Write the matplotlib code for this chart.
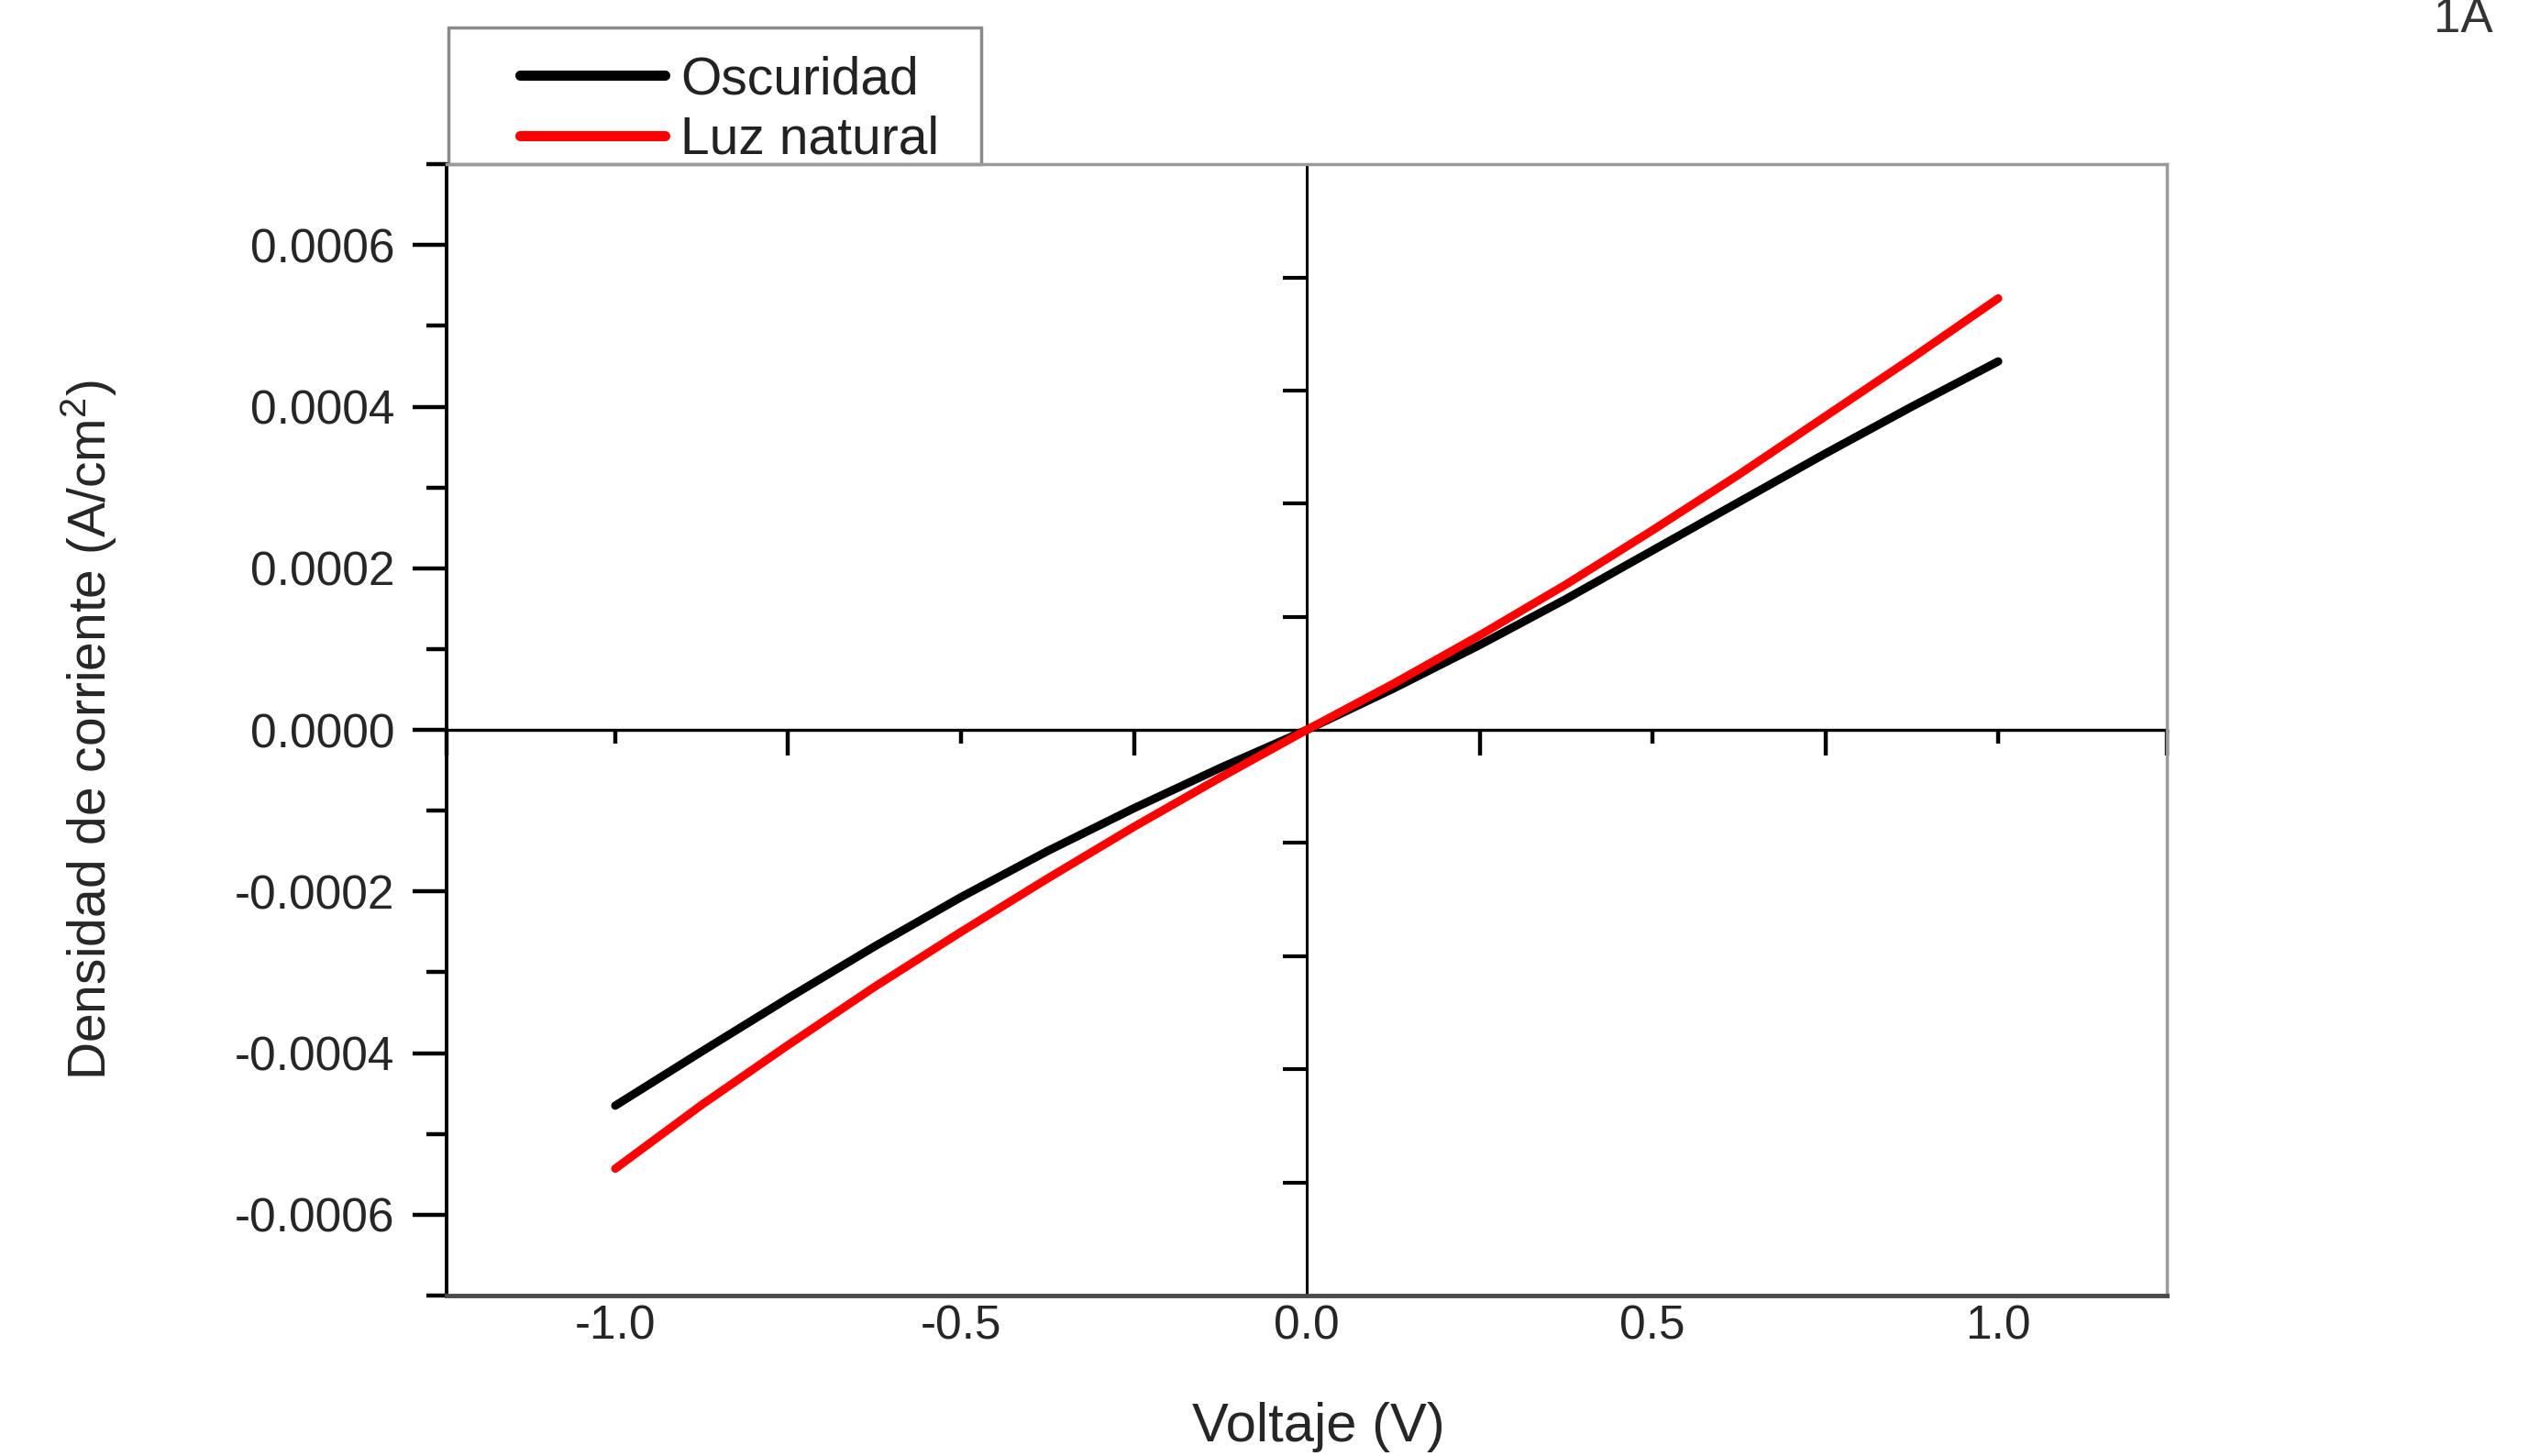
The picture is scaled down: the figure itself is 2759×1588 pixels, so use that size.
import matplotlib
matplotlib.use("Agg")
import matplotlib.pyplot as plt
from matplotlib.patches import Rectangle
from matplotlib.ticker import MultipleLocator, FixedLocator, FuncFormatter

plt.rcParams['font.family'] = ['Liberation Sans', 'DejaVu Sans']
plt.rcParams['mathtext.fontset'] = 'custom'
plt.rcParams['mathtext.rm'] = 'Liberation Sans'
plt.rcParams['mathtext.it'] = 'Liberation Sans:italic'

# curvas J-V
voltaje = [-1.0, -0.875, -0.75, -0.625, -0.5, -0.375, -0.25, -0.125, 0.0,
           0.125, 0.25, 0.375, 0.5, 0.625, 0.75, 0.875, 1.0]
oscuridad = [-0.000465, -0.000398, -0.000332, -0.000268, -0.000207, -0.000150,
             -0.000097, -0.000047, 0.0,
             0.000051, 0.000105, 0.000162, 0.000222, 0.000282, 0.000342,
             0.000400, 0.000456]
luz_natural = [-0.000543, -0.000464, -0.000390, -0.000318, -0.000250, -0.000184,
               -0.000120, -0.000059, 0.0,
               0.000057, 0.000117, 0.000180, 0.000247, 0.000316, 0.000388,
               0.000460, 0.000534]

xlim = (-1.244, 1.244)
ylim = (-0.0007, 0.0007)

# ticks del eje central (estilo Origin)
centro_x_major = [-1.244, -0.75, -0.25, 0.25, 0.75, 1.244]
centro_x_minor = [-1.0, -0.5, 0.5, 1.0]
centro_y = [-0.00056, -0.00042, -0.00028, -0.00014, 0.00014, 0.00028, 0.00042, 0.00056]

txt_color = '#262626'

fig = plt.figure(figsize=(27.59, 15.88), dpi=100)
pos = [0.1765, 0.1102, 0.680, 0.777]

# ejes centrales que cruzan en el origen
axc = fig.add_axes(pos, zorder=0)
axc.set_xlim(xlim)
axc.set_ylim(ylim)
for s in ['top', 'right']:
    axc.spines[s].set_visible(False)
axc.spines['left'].set_position(('data', 0))
axc.spines['bottom'].set_position(('data', 0))
axc.spines['left'].set_linewidth(2.2)
axc.spines['bottom'].set_linewidth(2.4)
axc.xaxis.set_major_locator(FixedLocator(centro_x_major))
axc.xaxis.set_minor_locator(FixedLocator(centro_x_minor))
axc.yaxis.set_major_locator(FixedLocator(centro_y))
axc.tick_params(axis='x', which='major', direction='out', length=20, width=3.2, labelbottom=False)
axc.tick_params(axis='x', which='minor', direction='out', length=11, width=3.2, labelbottom=False)
axc.tick_params(axis='y', direction='out', length=19, width=3, labelleft=False)

# ejes principales
ax = fig.add_axes(pos, zorder=1, facecolor='none')
ax.plot(voltaje, oscuridad, color='black', lw=6.5, solid_capstyle='round',
        label='Oscuridad', zorder=3)
ax.plot(voltaje, luz_natural, color='red', lw=6.5, solid_capstyle='round',
        label='Luz natural', zorder=4)
ax.set_xlim(xlim)
ax.set_ylim(ylim)

ax.spines['left'].set_color('black')
ax.spines['left'].set_linewidth(2.8)
ax.spines['bottom'].set_color('#4a4a4a')
ax.spines['bottom'].set_linewidth(3.5)
for s in ['top', 'right']:
    ax.spines[s].set_color('#9a9a9a')
    ax.spines[s].set_linewidth(2.5)

ax.yaxis.set_major_locator(MultipleLocator(0.0002))
ax.yaxis.set_minor_locator(MultipleLocator(0.0001))
ax.yaxis.set_major_formatter(FuncFormatter(lambda v, p: f"{v:.4f}"))
ax.xaxis.set_major_locator(MultipleLocator(0.5))
ax.xaxis.set_major_formatter(FuncFormatter(lambda v, p: f"{v:.1f}"))
ax.tick_params(axis='y', which='major', direction='out', length=27, width=3.2,
               pad=14, labelsize=37, labelcolor=txt_color)
ax.tick_params(axis='y', which='minor', direction='out', length=16, width=3.2)
ax.tick_params(axis='x', which='both', length=0, pad=7, labelsize=37,
               labelcolor=txt_color)

ax.set_ylabel('Densidad de corriente (A/cm$^{2}$)', fontsize=41, color=txt_color)
ax.yaxis.set_label_coords(-0.208, 0.5)
ax.yaxis.label.set_va('center')
ax.set_xlabel('Voltaje (V)', fontsize=43, color=txt_color)
ax.xaxis.set_label_coords(0.507, -0.116)
ax.xaxis.label.set_va('center')

# leyenda encima del marco
ax.add_patch(Rectangle((0.001, 1.0), 0.3097, 0.1207, transform=ax.transAxes,
                       fill=False, edgecolor='#8a8a8a', lw=2.5, clip_on=False))
leg = ax.legend(loc='upper left', bbox_to_anchor=(0.0426, 1.0965), frameon=False,
                fontsize=41, handlelength=2.78, handletextpad=0.3,
                labelspacing=0.2, borderpad=0, borderaxespad=0)
for line in leg.get_lines():
    line.set_linewidth(8)
for t in leg.get_texts():
    t.set_color('#222222')

fig.text(0.9855, 0.978, '1A', ha='right', va='baseline', fontsize=38, color='#333333')

fig.savefig('out.png', dpi=100)
